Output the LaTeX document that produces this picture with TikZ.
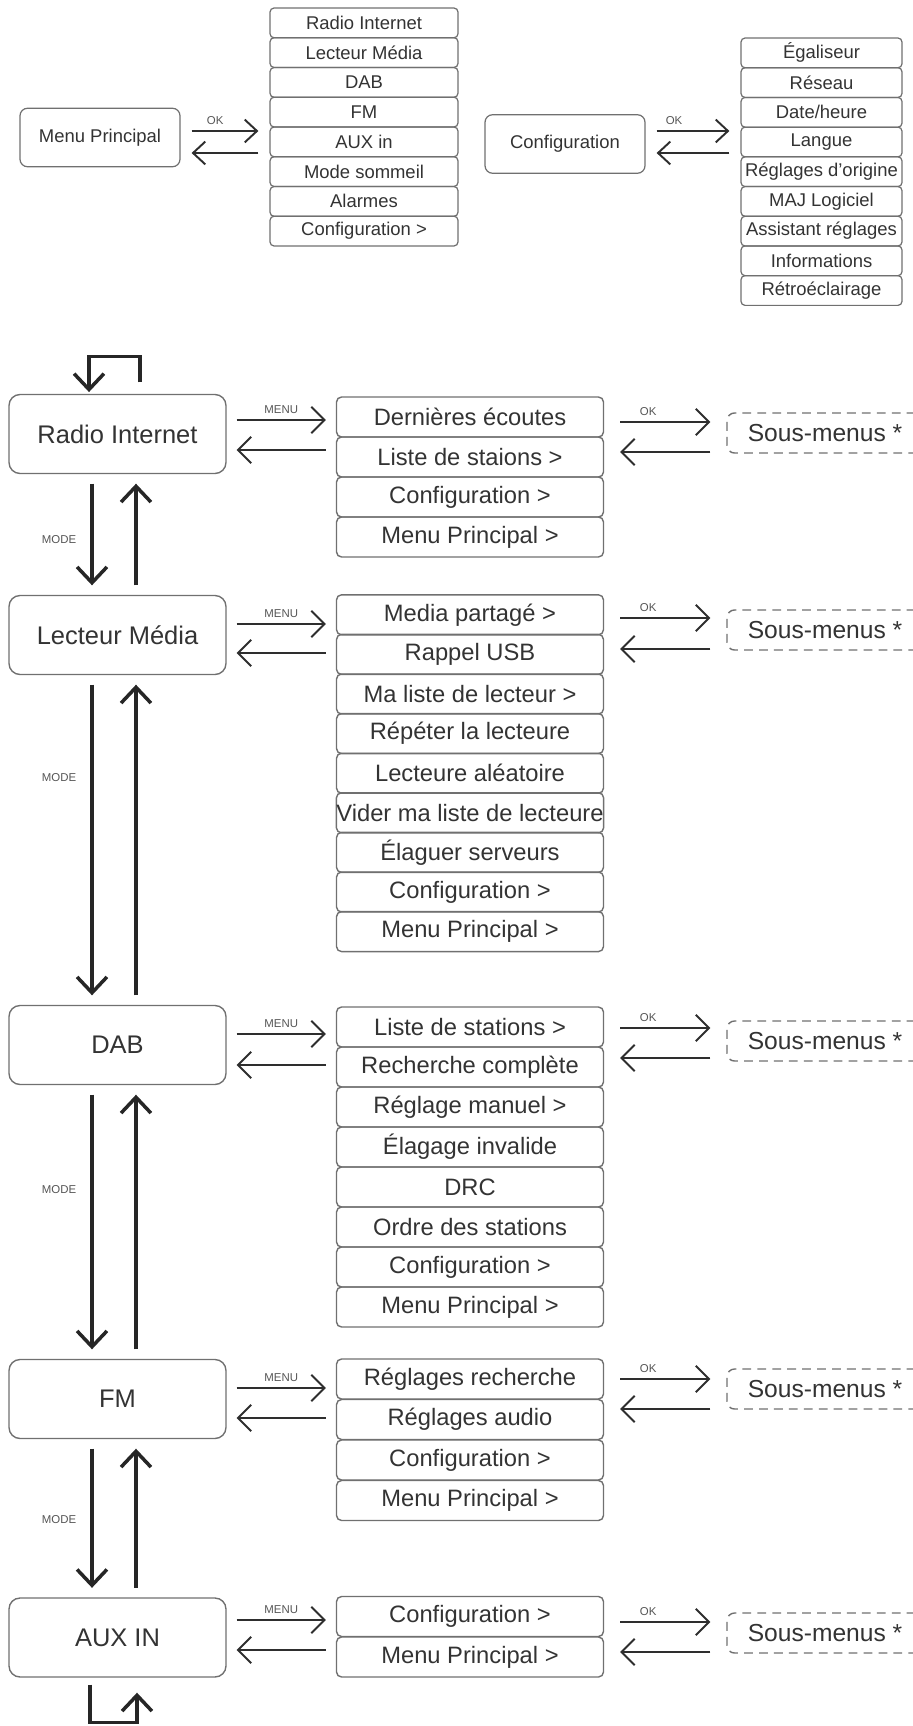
\documentclass[tikz,border=0pt]{standalone}
\usepackage{fontspec}
\setmainfont{Liberation Sans}
\usetikzlibrary{arrows.meta}
\definecolor{boxgray}{HTML}{707070}
\definecolor{txtgray}{HTML}{333333}
\definecolor{arrgray}{HTML}{2E2E2E}
\definecolor{lblgray}{HTML}{555555}

\begin{document}
\begin{tikzpicture}[x=0.02cm,y=-0.02cm,
  topbox/.style={draw=boxgray,line width=0.7pt,rounded corners=0.15cm,minimum width=3.2cm,minimum height=1.17cm,text=txtgray,font=\fontsize{10.5}{12}\selectfont},
  topitem/.style={draw=boxgray,line width=0.7pt,rounded corners=0.08cm,minimum height=0.595cm,inner sep=0pt,text=txtgray,font=\fontsize{10.5}{12}\selectfont},
  modebox/.style={draw=boxgray,line width=0.8pt,rounded corners=0.22cm,minimum width=4.34cm,minimum height=1.58cm,text=txtgray,font=\fontsize{14.5}{17}\selectfont},
  item/.style={draw=boxgray,line width=0.8pt,rounded corners=0.1cm,minimum width=5.34cm,minimum height=0.8cm,inner sep=0pt,text=txtgray,font=\fontsize{13.5}{16}\selectfont},
  sous/.style={draw=boxgray,line width=0.8pt,dash pattern=on 5pt off 3.5pt,rounded corners=0.15cm,minimum width=3.92cm,minimum height=0.8cm,text=txtgray,font=\fontsize{14}{16}\selectfont},
  okarrow/.style={draw=arrgray,line width=1.1pt,-{Straight Barb[length=7pt,width=13pt]},shorten <=0.22cm,shorten >=0.22cm},
  menuarrow/.style={draw=arrgray,line width=1.1pt,-{Straight Barb[length=7.5pt,width=15pt]},shorten <=0.2cm,shorten >=0.2cm},
  subarrow/.style={menuarrow,shorten <=0.32cm,shorten >=0.32cm},
  modearrow/.style={draw=black!85,line width=2pt,-{Straight Barb[length=9pt,width=17pt]},shorten <=0.19cm,shorten >=0.19cm},
  lbl/.style={text=lblgray,font=\fontsize{6.5}{7}\selectfont,inner sep=1pt}]
  \useasboundingbox (0,0) rectangle (912,1726);

  % menu principal
  \node[topbox] (menu) at (100,137.5) {Menu Principal};
  \node[topitem,minimum width=3.76cm] (m-radio) at (364,22.9) {Radio Internet};
  \node[topitem,minimum width=3.76cm] (m-lecteur) at (364,52.6) {Lecteur Média};
  \node[topitem,minimum width=3.76cm] (m-dab) at (364,82.4) {DAB};
  \node[topitem,minimum width=3.76cm] (m-fm) at (364,112.1) {FM};
  \node[topitem,minimum width=3.76cm] (m-aux) at (364,141.9) {AUX in};
  \node[topitem,minimum width=3.76cm] (m-sommeil) at (364,171.6) {Mode sommeil};
  \node[topitem,minimum width=3.76cm] (m-alarmes) at (364,201.4) {Alarmes};
  \node[topitem,minimum width=3.76cm] (m-config) at (364,231.1) {Configuration >};

  % configuration
  \node[topbox] (config) at (565,144) {Configuration};
  \node[topitem,minimum width=3.22cm] (c-egal) at (821.5,52.9) {Égaliseur};
  \node[topitem,minimum width=3.22cm] (c-reseau) at (821.5,82.6) {Réseau};
  \node[topitem,minimum width=3.22cm] (c-date) at (821.5,112.3) {Date/heure};
  \node[topitem,minimum width=3.22cm] (c-langue) at (821.5,142) {Langue};
  \node[topitem,minimum width=3.22cm] (c-origine) at (821.5,171.7) {Réglages d'origine};
  \node[topitem,minimum width=3.22cm] (c-maj) at (821.5,201.4) {MAJ Logiciel};
  \node[topitem,minimum width=3.22cm] (c-assist) at (821.5,231.1) {Assistant réglages};
  \node[topitem,minimum width=3.22cm] (c-info) at (821.5,260.8) {Informations};
  \node[topitem,minimum width=3.22cm] (c-retro) at (821.5,290.5) {Rétroéclairage};

  \draw[okarrow] (menu.east |- 0,131) -- (m-aux.west |- 0,131) node[pos=.39,above=2pt,lbl] {OK};
  \draw[okarrow] (m-aux.west |- 0,153) -- (menu.east |- 0,153);
  \draw[okarrow] (config.east |- 0,131) -- (c-langue.west |- 0,131) node[pos=.30,above=2pt,lbl] {OK};
  \draw[okarrow] (c-langue.west |- 0,153) -- (config.east |- 0,153);

  % modes
  \node[modebox] (radio) at (117.5,434) {Radio Internet};
  \node[modebox] (lecteur) at (117.5,635) {Lecteur Média};
  \node[modebox] (dab) at (117.5,1045) {DAB};
  \node[modebox] (fm) at (117.5,1399) {FM};
  \node[modebox] (aux) at (117.5,1637.5) {AUX IN};

  % radio internet
  \node[item] (ri-dern) at (470,417) {Dernières écoutes};
  \node[item] (ri-liste) at (470,457) {Liste de staions >};
  \node[item] (ri-config) at (470,497) {Configuration >};
  \node[item] (ri-menu) at (470,537) {Menu Principal >};
  \node[sous] (ri-sous) at (825,433) {Sous-menus *};

  % lecteur media
  \node[item] (lm-media) at (470,614.8) {Media partagé >};
  \node[item] (lm-usb) at (470,654.4) {Rappel USB};
  \node[item] (lm-maliste) at (470,694) {Ma liste de lecteur >};
  \node[item] (lm-repeter) at (470,733.6) {Répéter la lecteure};
  \node[item] (lm-alea) at (470,773.2) {Lecteure aléatoire};
  \node[item] (lm-vider) at (470,812.8) {Vider ma liste de lecteure};
  \node[item] (lm-elaguer) at (470,852.4) {Élaguer serveurs};
  \node[item] (lm-config) at (470,892) {Configuration >};
  \node[item] (lm-menu) at (470,931.6) {Menu Principal >};
  \node[sous] (lm-sous) at (825,630) {Sous-menus *};

  % dab
  \node[item] (dab-liste) at (470,1027) {Liste de stations >};
  \node[item] (dab-rech) at (470,1067) {Recherche complète};
  \node[item] (dab-manuel) at (470,1107) {Réglage manuel >};
  \node[item] (dab-elag) at (470,1147) {Élagage invalide};
  \node[item] (dab-drc) at (470,1187) {DRC};
  \node[item] (dab-ordre) at (470,1227) {Ordre des stations};
  \node[item] (dab-config) at (470,1267) {Configuration >};
  \node[item] (dab-menu) at (470,1307) {Menu Principal >};
  \node[sous] (dab-sous) at (825,1041) {Sous-menus *};

  % fm
  \node[item] (fm-rech) at (470,1379) {Réglages recherche};
  \node[item] (fm-audio) at (470,1419.5) {Réglages audio};
  \node[item] (fm-config) at (470,1460) {Configuration >};
  \node[item] (fm-menu) at (470,1500.5) {Menu Principal >};
  \node[sous] (fm-sous) at (825,1389) {Sous-menus *};

  % aux in
  \node[item] (aux-config) at (470,1616.5) {Configuration >};
  \node[item] (aux-menu) at (470,1657) {Menu Principal >};
  \node[sous] (aux-sous) at (825,1633) {Sous-menus *};

  \draw[menuarrow] (radio.east |- 0,420) -- (ri-dern.west |- 0,420) node[midway,above=2pt,lbl] {MENU};
  \draw[menuarrow] (ri-dern.west |- 0,450) -- (radio.east |- 0,450);
  \draw[subarrow] (ri-dern.east |- 0,422) -- (ri-sous.west |- 0,422) node[pos=.36,above=2pt,lbl] {OK};
  \draw[subarrow] (ri-sous.west |- 0,452) -- (ri-dern.east |- 0,452);

  \draw[menuarrow] (lecteur.east |- 0,624) -- (lm-media.west |- 0,624) node[midway,above=2pt,lbl] {MENU};
  \draw[menuarrow] (lm-media.west |- 0,653) -- (lecteur.east |- 0,653);
  \draw[subarrow] (lm-media.east |- 0,618) -- (lm-sous.west |- 0,618) node[pos=.36,above=2pt,lbl] {OK};
  \draw[subarrow] (lm-sous.west |- 0,649) -- (lm-media.east |- 0,649);

  \draw[menuarrow] (dab.east |- 0,1034) -- (dab-liste.west |- 0,1034) node[midway,above=2pt,lbl] {MENU};
  \draw[menuarrow] (dab-liste.west |- 0,1065) -- (dab.east |- 0,1065);
  \draw[subarrow] (dab-liste.east |- 0,1028) -- (dab-sous.west |- 0,1028) node[pos=.36,above=2pt,lbl] {OK};
  \draw[subarrow] (dab-sous.west |- 0,1058) -- (dab-liste.east |- 0,1058);

  \draw[menuarrow] (fm.east |- 0,1388) -- (fm-rech.west |- 0,1388) node[midway,above=2pt,lbl] {MENU};
  \draw[menuarrow] (fm-rech.west |- 0,1418) -- (fm.east |- 0,1418);
  \draw[subarrow] (fm-rech.east |- 0,1379) -- (fm-sous.west |- 0,1379) node[pos=.36,above=2pt,lbl] {OK};
  \draw[subarrow] (fm-sous.west |- 0,1409) -- (fm-rech.east |- 0,1409);

  \draw[menuarrow] (aux.east |- 0,1620) -- (aux-config.west |- 0,1620) node[midway,above=2pt,lbl] {MENU};
  \draw[menuarrow] (aux-config.west |- 0,1650) -- (aux.east |- 0,1650);
  \draw[subarrow] (aux-config.east |- 0,1622) -- (aux-sous.west |- 0,1622) node[pos=.36,above=2pt,lbl] {OK};
  \draw[subarrow] (aux-sous.west |- 0,1652) -- (aux-config.east |- 0,1652);

  % mode cycle
  \coordinate (looptop) at ([xshift=0.45cm,yshift=0.23cm]radio.north);
  \draw[modearrow,shorten <=0pt,shorten >=1pt] (looptop) -- ++(0,-26) -| ([xshift=-0.57cm]radio.north);
  \draw[modearrow] ([xshift=-0.51cm]radio.south) -- ([xshift=-0.51cm]lecteur.north) node[pos=.54,left=7pt,lbl] {MODE};
  \draw[modearrow] ([xshift=0.37cm]lecteur.north) -- ([xshift=0.37cm]radio.south);
  \draw[modearrow] ([xshift=-0.51cm]lecteur.south) -- ([xshift=-0.51cm]dab.north) node[pos=.31,left=7pt,lbl] {MODE};
  \draw[modearrow] ([xshift=0.37cm]dab.north) -- ([xshift=0.37cm]lecteur.south);
  \draw[modearrow] ([xshift=-0.51cm]dab.south) -- ([xshift=-0.51cm]fm.north) node[pos=.38,left=7pt,lbl] {MODE};
  \draw[modearrow] ([xshift=0.37cm]fm.north) -- ([xshift=0.37cm]dab.south);
  \draw[modearrow] ([xshift=-0.51cm]fm.south) -- ([xshift=-0.51cm]aux.north) node[pos=.51,left=7pt,lbl] {MODE};
  \draw[modearrow] ([xshift=0.37cm]aux.north) -- ([xshift=0.37cm]fm.south);
  \draw[modearrow,shorten <=0.14cm,shorten >=0.3cm] ([xshift=-0.55cm]aux.south) -- ++(0,45) -| ([xshift=0.39cm]aux.south);
\end{tikzpicture}
\end{document}
